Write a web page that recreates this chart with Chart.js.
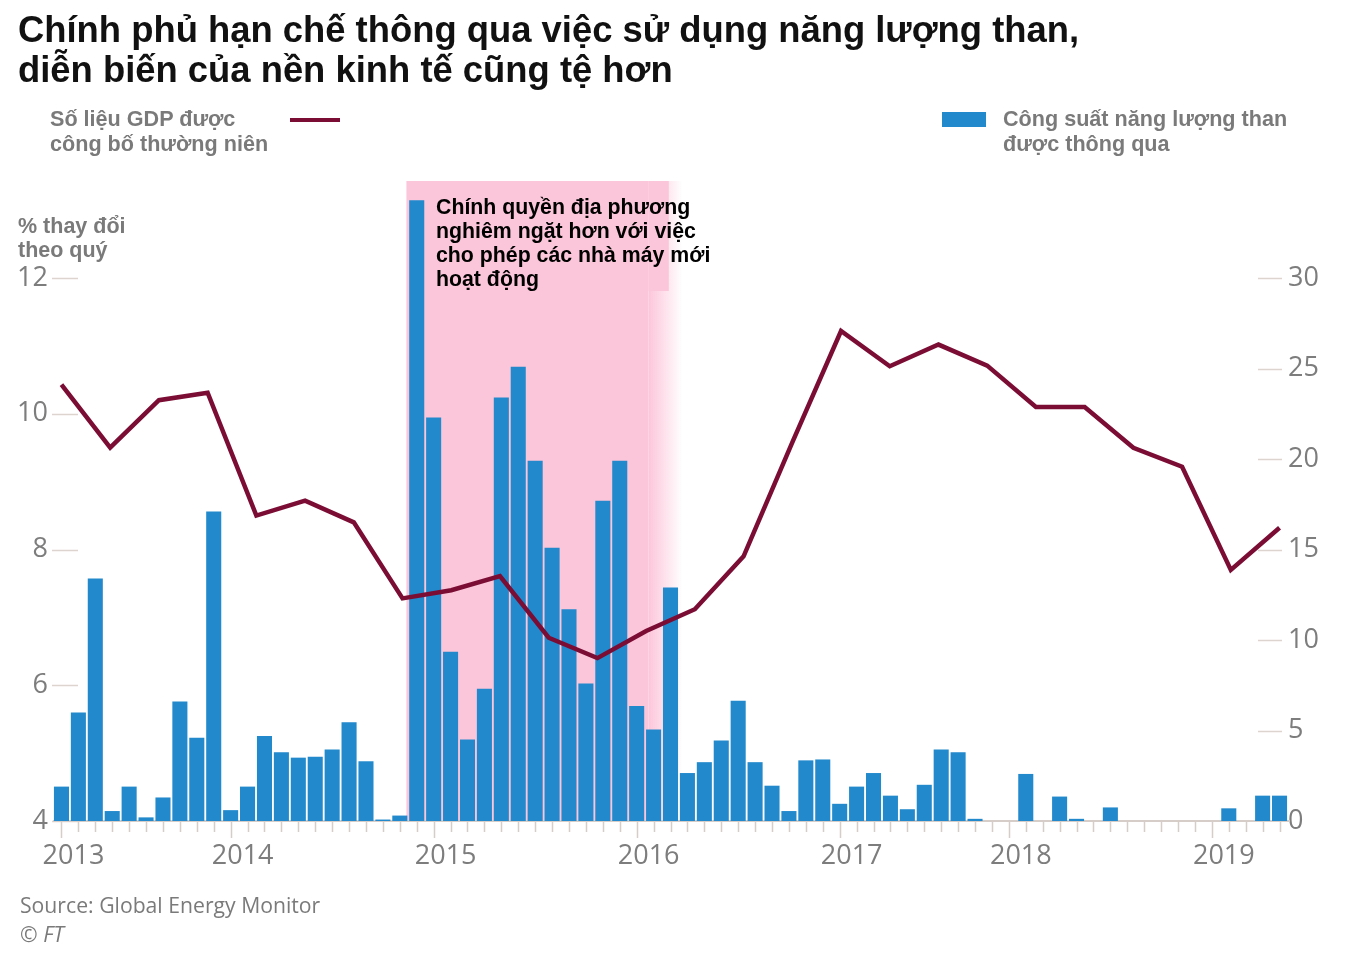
<!DOCTYPE html>
<html lang="vi">
<head>
<meta charset="utf-8">
<script src="https://cdn.jsdelivr.net/npm/chart.js@4.4.1/dist/chart.umd.min.js"></script>
<style>
  html, body { margin: 0; padding: 0; background: #fff; }
  body { width: 1347px; height: 962px; position: relative; overflow: hidden; font-family: "Liberation Sans", Arial, sans-serif; }
  #wrap { position: absolute; left: 0; top: 0; width: 1347px; height: 962px; }
  .title { position: absolute; left: 18px; top: 10px; font-size: 36.4px; font-weight: bold; line-height: 40px; color: #111; white-space: nowrap; }
  .lg { position: absolute; font-size: 21.6px; font-weight: bold; line-height: 25px; color: #7a7a7a; white-space: nowrap; }
  .swatch-line { position: absolute; left: 290px; top: 118px; width: 50px; height: 4px; background: #7b0d35; }
  .swatch-bar { position: absolute; left: 942px; top: 112px; width: 44px; height: 15px; background: #2189cc; }
  .axis-title { position: absolute; left: 18px; top: 214px; font-size: 21.5px; font-weight: bold; line-height: 24px; color: #7a7a7a; white-space: nowrap; }
  .note { position: absolute; left: 436px; top: 195px; font-size: 21.3px; font-weight: bold; line-height: 24px; color: #000; white-space: nowrap; }
  .source { position: absolute; left: 20px; top: 890px; font-family: "Open Sans", sans-serif; font-size: 21.2px; line-height: 29px; color: #7a7a7a; white-space: nowrap; }
</style>
</head>
<body>
<div id="wrap"><canvas id="chart" width="1347" height="962"></canvas></div>
<div class="title">Chính phủ hạn chế thông qua việc sử dụng năng lượng than,<br>diễn biến của nền kinh tế cũng tệ hơn</div>
<div class="lg" style="left:50px; top:106px;">Số liệu GDP được<br>công bố thường niên</div>
<div class="swatch-line"></div>
<div class="swatch-bar"></div>
<div class="lg" style="left:1003px; top:106px;">Công suất năng lượng than<br>được thông qua</div>
<div class="axis-title">% thay đổi<br>theo quý</div>
<div class="note">Chính quyền địa phương<br>nghiêm ngặt hơn với việc<br>cho phép các nhà máy mới<br>hoạt động</div>
<div class="source">Source: Global Energy Monitor<br><i>© FT</i></div>
<script>
// công suất than được thông qua, theo tháng (trục phải)
const capacity = [
  1.9, 6.0, 13.4, 0.55, 1.9, 0.2, 1.3, 6.6, 4.6, 17.1,
  0.6, 1.9, 4.7, 3.8, 3.5, 3.55, 3.95, 5.45, 3.3, 0.08, 0.3, 34.3,
  22.3, 9.35, 4.5, 7.3, 23.4, 25.1, 19.9, 15.1, 11.7, 7.6, 17.7, 19.9,
  6.35, 5.05, 12.9, 2.65, 3.25, 4.45, 6.65, 3.25, 1.95, 0.55, 3.35, 3.4,
  0.95, 1.9, 2.65, 1.4, 0.65, 2.0, 3.95, 3.8, 0.12, 0,
  0, 2.6, 0, 1.35, 0.12, 0, 0.75, 0, 0, 0, 0, 0,
  0, 0.7, 0, 1.4, 1.4
];
// tăng trưởng GDP theo quý 2013Q1 - 2019Q2 (trục trái)
const gdp = [
  10.43, 9.5, 10.2, 10.31,
  8.5, 8.72, 8.4, 7.28,
  7.4, 7.61, 6.7, 6.4,
  6.8, 7.12, 7.9, 9.58,
  11.22, 10.7, 11.02, 10.71,
  10.1, 10.1, 9.5, 9.22,
  7.7, 8.32
];
const yearLabels = ["2013", "2014", "2015", "2016", "2017", "2018", "2019"];
const yearStarts = [0, 10, 22, 34, 46, 56, 68];
const gdpTicks = [4, 6, 8, 10, 12];
const capacityTicks = [0, 5, 10, 15, 20, 25, 30];

const BLUE = "#2189cc";
const CLARET = "#7b0d35";
const PINK = "rgb(252,198,218)";
const TICK_TXT = "#7d7d7d";
const TICK_LINE = "#ddd3cf";
const TICK_FONT = { family: "Open Sans", size: 27 };

const labels = capacity.map((v, i) => {
    const k = yearStarts.indexOf(i);
    return k >= 0 ? yearLabels[k] : "";
});
const perQuarter = (capacity.length - 1) / (gdp.length - 1);

const shadePlugin = {
    id: "shade",
    beforeDatasetsDraw(chart) {
        const { ctx, chartArea, scales } = chart;
        const x = scales.x;
        const x0 = x.getPixelForValue(20.39);
        const x1 = x.getPixelForValue(34.7);
        const x2 = x.getPixelForValue(36.7);
        const xBox = x.getPixelForValue(35.9);
        const base = scales.yR.getPixelForValue(0);
        ctx.save();
        ctx.fillStyle = PINK;
        ctx.fillRect(x0, chartArea.top, x1 - x0, base - chartArea.top);
        const g = ctx.createLinearGradient(x1, 0, x2, 0);
        g.addColorStop(0, PINK);
        g.addColorStop(1, "rgba(252,198,218,0)");
        ctx.fillStyle = g;
        ctx.fillRect(x1, chartArea.top, x2 - x1, base - chartArea.top);
        ctx.fillStyle = PINK;
        ctx.fillRect(x1, chartArea.top, xBox - x1, 110);

        // short tick marks on both value axes
        ctx.strokeStyle = TICK_LINE;
        ctx.lineWidth = 1.5;
        scales.yL.ticks.forEach((t) => {
            const y = Math.round(scales.yL.getPixelForValue(t.value)) + 0.5;
            ctx.beginPath();
            ctx.moveTo(chartArea.left - 1, y);
            ctx.lineTo(chartArea.left + 25, y);
            ctx.stroke();
        });
        scales.yR.ticks.forEach((t) => {
            if (t.value === 0) return;
            const y = Math.round(scales.yR.getPixelForValue(t.value)) + 0.5;
            ctx.beginPath();
            ctx.moveTo(chartArea.right - 30, y);
            ctx.lineTo(chartArea.right - 6, y);
            ctx.stroke();
        });
        // baseline and month ticks
        ctx.strokeStyle = "#d6ccc8";
        ctx.lineWidth = 2;
        ctx.beginPath();
        ctx.moveTo(chartArea.left, base);
        ctx.lineTo(chartArea.right + 2, base);
        ctx.stroke();
        ctx.lineWidth = 1.5;
        capacity.forEach((v, i) => {
            const px = Math.round(x.getPixelForValue(i)) + 0.5;
            const len = yearStarts.includes(i) ? 17 : 11;
            ctx.beginPath();
            ctx.moveTo(px, base);
            ctx.lineTo(px, base + len);
            ctx.stroke();
        });
        ctx.restore();
    }
};

new Chart(document.getElementById("chart"), {
    type: "bar",
    plugins: [shadePlugin],
    data: {
        labels: labels,
        datasets: [
            {
                type: "line",
                label: "Số liệu GDP được công bố thường niên",
                data: gdp.map((v, i) => ({ x: i, y: v })),
                xAxisID: "xq",
                yAxisID: "yL",
                borderColor: CLARET,
                borderWidth: 4.5,
                pointRadius: 0,
                tension: 0,
                order: 0
            },
            {
                type: "bar",
                label: "Công suất năng lượng than được thông qua",
                data: capacity,
                xAxisID: "x",
                yAxisID: "yR",
                backgroundColor: BLUE,
                grouped: false,
                barPercentage: 0.89,
                categoryPercentage: 1,
                order: 1
            }
        ]
    },
    options: {
        responsive: false,
        animation: false,
        layout: { padding: { top: 181, bottom: 81, left: 0, right: 0 } },
        plugins: { legend: { display: false }, tooltip: { enabled: false } },
        scales: {
            x: {
                type: "category",
                offset: true,
                grid: { display: false, drawTicks: false },
                border: { display: false },
                ticks: { autoSkip: false, maxRotation: 0, padding: 19, labelOffset: 12, color: TICK_TXT, font: TICK_FONT },
                afterFit(s) { s.height = 60; }
            },
            xq: {
                type: "linear",
                display: false,
                offset: false,
                bounds: "data",
                min: -0.5 / perQuarter,
                max: (gdp.length - 1) + 0.5 / perQuarter
            },
            yL: {
                type: "linear",
                position: "left",
                min: 4,
                max: 13.43,
                afterBuildTicks(s) { s.ticks = gdpTicks.map((v) => ({ value: v })); },
                grid: { display: false, drawTicks: false },
                border: { display: false },
                ticks: { padding: 5, color: TICK_TXT, font: TICK_FONT },
                afterFit(s) { s.width = 53; }
            },
            yR: {
                type: "linear",
                position: "right",
                min: 0,
                max: 35.36,
                afterBuildTicks(s) { s.ticks = capacityTicks.map((v) => ({ value: v })); },
                grid: { display: false, drawTicks: false },
                border: { display: false },
                ticks: { padding: 0, color: TICK_TXT, font: TICK_FONT },
                afterFit(s) { s.width = 59; }
            }
        }
    }
});
</script>
</body>
</html>
